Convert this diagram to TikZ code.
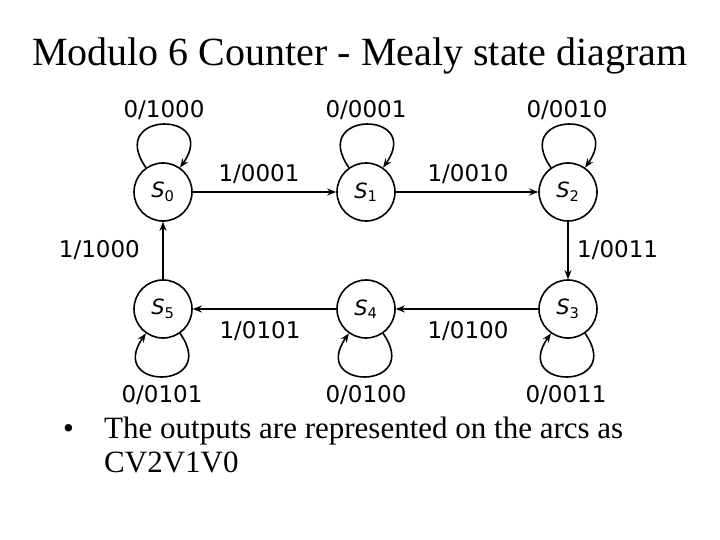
\documentclass[tikz,border=0pt]{standalone}
\usepackage{fontspec}
\setmainfont{Liberation Serif}
\newfontfamily\diagfont{DejaVu Sans}
\usetikzlibrary{arrows.meta}

\newcommand{\statelbl}[1]{\textit{S}\textsubscript{#1}}

\tikzset{
  state/.style={draw, circle, line width=1.6pt, minimum size=58pt, inner sep=0pt,
    font=\diagfont\fontsize{21}{21}\selectfont},
  lbl/.style={inner sep=0pt, anchor=base, font=\diagfont\fontsize{23}{23}\selectfont},
  arr/.style={line width=1.6pt, -{Stealth[length=9pt,width=7pt]}},
  txt/.style={inner sep=0pt, anchor=base west, font=\fontsize{31}{37}\selectfont},
}

\begin{document}
\begin{tikzpicture}[x=1pt,y=1pt]
    \useasboundingbox (0,0) rectangle (720,-540);

    %title
    \node[anchor=base, inner sep=0pt, font=\fontsize{40}{48}\selectfont] (title) at (360,-66)
        {Modulo 6 Counter - Mealy state diagram};

    %draw states
    \foreach \n/\x/\y in {0/163/192, 1/366/192, 2/568/192, 3/568/309, 4/366/309, 5/163/309}{
        \node[state] (S\n) at (\x,-\y) {\statelbl{\n}};
    }

    %draw transitions on input 1
    \draw[arr] (S0) -- (S1);
    \draw[arr] (S1) -- (S2);
    \draw[arr] (S2) -- (S3);
    \draw[arr] (S3) -- (S4);
    \draw[arr] (S4) -- (S5);
    \draw[arr] (S5) -- (S0);

    %draw self loops on input 0
    \foreach \n in {0,1,2}
        \draw[arr] (S\n) to[out=125, in=55, distance=70pt] (S\n);
    \foreach \n in {3,4,5}
        \draw[arr] (S\n) to[out=-55, in=-125, distance=70pt] (S\n);

    %labels of the arcs
    \node[lbl] (loop0) at (164,-118) {0/1000};
    \node[lbl] (loop1) at (366,-118) {0/0001};
    \node[lbl] (loop2) at (567,-118) {0/0010};
    \node[lbl] (arc01) at (259,-182) {1/0001};
    \node[lbl] (arc12) at (468,-182) {1/0010};
    \node[lbl, anchor=base west] (arc23) at (577,-257) {1/0011};
    \node[lbl, anchor=base east] (arc50) at (140,-258) {1/1000};
    \node[lbl] (arc45) at (260,-338) {1/0101};
    \node[lbl] (arc34) at (468,-338) {1/0100};
    \node[lbl] (loop5) at (162,-402) {0/0101};
    \node[lbl] (loop4) at (366,-402) {0/0100};
    \node[lbl] (loop3) at (566,-402) {0/0011};

    %bullet text
    \node[txt] (bullet) at (63,-438) {\textbullet};
    \node[txt] (line1) at (104,-438) {The outputs are represented on the arcs as};
    \node[txt] (line2) at (104,-472) {CV2V1V0};
\end{tikzpicture}
\end{document}
